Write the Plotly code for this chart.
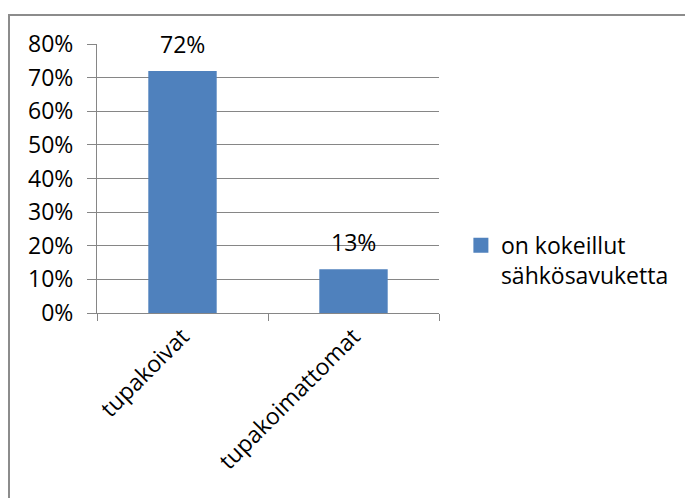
import plotly.graph_objects as go

categories = ["tupakoivat", "tupakoimattomat"]
values = [0.72, 0.13]
value_labels = ["72%", "13%"]
series_name = "on kokeillut<br>sähkösavuketta"
y_ticks = [0, 0.1, 0.2, 0.3, 0.4, 0.5, 0.6, 0.7, 0.8]
y_tick_labels = ["0%", "10%", "20%", "30%", "40%", "50%", "60%", "70%", "80%"]

FONT = "Open Sans"
FS = 23
GRID = "#868686"
BAR = "#4F81BD"

ML, MR, MT, MB = 89, 262, 36, 193
W, H = 693, 498
PW = W - ML - MR
PH = H - MT - MB

fig = go.Figure()
fig.add_trace(go.Bar(
    x=categories, y=values, name=series_name,
    marker=dict(color=BAR, line=dict(width=0)),
    showlegend=False, legendgroup="s",
))
# legend entry with a larger square swatch
fig.add_trace(go.Scatter(
    x=[None], y=[None], mode="markers", name=series_name, legendgroup="s",
    marker=dict(symbol="square", size=15, color=BAR), showlegend=True,
))

for c, v, t in zip(categories, values, value_labels):
    fig.add_annotation(x=c, y=v, text=t, showarrow=False, yanchor="bottom",
                       yshift=9, font=dict(family=FONT, size=FS, color="black"))

# outer chart border
fig.add_shape(type="rect", xref="paper", yref="paper",
              x0=(1 - ML) / PW, x1=(W + 20 - ML) / PW,
              y0=1 + (MT - 7) / PH, y1=-(MB + 20) / PH,
              line=dict(color="#8c8c8c", width=2), fillcolor="rgba(0,0,0,0)",
              layer="above")

fig.update_layout(
    width=W, height=H,
    margin=dict(l=ML, r=MR, t=MT, b=MB),
    paper_bgcolor="white", plot_bgcolor="white",
    font=dict(family=FONT, size=FS, color="black"),
    bargap=0.6,
    showlegend=True,
    legend=dict(x=1.064, y=0.196, xanchor="left", yanchor="middle",
                valign="top", font=dict(family=FONT, size=FS, color="black"),
                bgcolor="rgba(0,0,0,0)"),
    xaxis=dict(
        type="category", tickson="boundaries", ticks="outside", ticklen=7,
        tickcolor=GRID, tickwidth=1, showline=True, linecolor=GRID, linewidth=1,
        showgrid=False, tickangle=-45,
        tickfont=dict(family=FONT, size=FS, color="black"),
    ),
    yaxis=dict(
        range=[0, 0.8], tickvals=y_ticks, ticktext=y_tick_labels,
        ticks="outside", ticklen=9, tickcolor=GRID, tickwidth=1,
        showline=True, linecolor=GRID, linewidth=1,
        showgrid=True, gridcolor=GRID, gridwidth=1, zeroline=False,
        ticklabelstandoff=9,
        tickfont=dict(family=FONT, size=FS, color="black"),
    ),
)

fig.write_html("out.html")
